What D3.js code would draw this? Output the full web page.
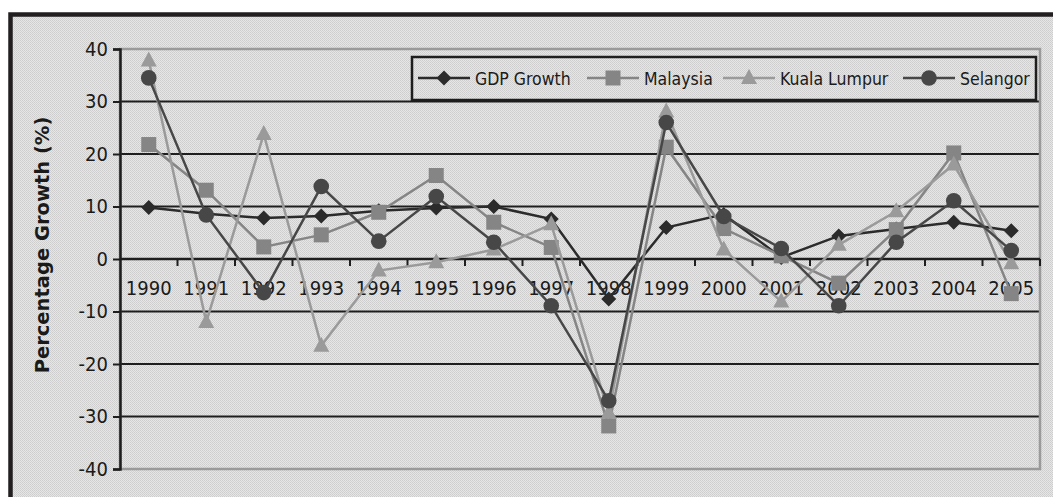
<!DOCTYPE html>
<html lang="en">
<head>
<meta charset="UTF-8">
<title>Percentage Growth</title>
<script src="https://d3js.org/d3.v7.min.js"></script>
<style>
  body { margin: 0; background: #fff; }
  text { font-family: "DejaVu Sans Condensed", "DejaVu Sans", sans-serif; fill: #1a1a1a; }
</style>
</head>
<body>
<div id="chart"></div>
<script>
// data
const years = ["1990","1991","1992","1993","1994","1995","1996","1997","1998","1999","2000","2001","2002","2003","2004","2005"];
const gdpGrowth   = [9.8, 8.6, 7.8, 8.2, 9.2, 9.7, 10.0, 7.6, -7.6, 6.0, 8.5, 0.3, 4.4, 5.7, 7.0, 5.4];
const malaysia    = [21.8, 13.1, 2.3, 4.6, 8.9, 15.9, 7.0, 2.2, -31.8, 21.3, 5.8, 0.6, -4.6, 5.6, 20.2, -6.6];
const kualaLumpur = [37.8, -12.0, 23.8, -16.5, -2.2, -0.6, 1.8, 6.6, -29.3, 28.1, 1.8, -8.1, 2.7, 9.1, 18.0, -0.8];
const selangor    = [34.5, 8.4, -6.4, 13.8, 3.4, 11.9, 3.2, -8.9, -27.0, 26.0, 8.1, 2.0, -8.9, 3.2, 11.1, 1.6];
const yTicks = [-40, -30, -20, -10, 0, 10, 20, 30, 40];

const series = [
  { name: "GDP Growth",   values: gdpGrowth,   color: "#2b2b2b", marker: "diamond" },
  { name: "Malaysia",     values: malaysia,    color: "#858585", marker: "square" },
  { name: "Kuala Lumpur", values: kualaLumpur, color: "#9a9a9a", marker: "triangle" },
  { name: "Selangor",     values: selangor,    color: "#474747", marker: "circle" }
];

const W = 1053, H = 497;
const plot = { left: 120, right: 1040, top: 49, bottom: 469 };

const svg = d3.select("#chart").append("svg")
  .attr("width", W).attr("height", H);

// fine dither texture for the background
const defs = svg.append("defs");
const pat = defs.append("pattern")
  .attr("id", "tex").attr("width", 2).attr("height", 2)
  .attr("patternUnits", "userSpaceOnUse");
pat.append("rect").attr("width", 2).attr("height", 2).attr("fill", "#e6e6e6");
pat.append("rect").attr("x", 0).attr("y", 0).attr("width", 1).attr("height", 1).attr("fill", "#cdcdcd");
pat.append("rect").attr("x", 1).attr("y", 1).attr("width", 1).attr("height", 1).attr("fill", "#d2d2d2");

// outer frame
svg.append("rect")
  .attr("x", 10.5).attr("y", 14.5).attr("width", W + 20).attr("height", H + 20)
  .attr("fill", "url(#tex)").attr("stroke", "#231f20").attr("stroke-width", 4.5);

const x = d3.scaleBand().domain(years).range([plot.left, plot.right]).padding(0);
const y = d3.scaleLinear().domain([-40, 40]).range([plot.bottom, plot.top]);
const cx = d => x(d) + x.bandwidth() / 2;

// gridlines
svg.append("g").selectAll("line")
  .data(yTicks.filter(v => v > -40 && v < 40))
  .enter().append("line")
  .attr("x1", plot.left).attr("x2", plot.right)
  .attr("y1", d => y(d)).attr("y2", d => y(d))
  .attr("stroke", "#1e1e1e").attr("stroke-width", 2);

// plot area border (gray)
svg.append("rect")
  .attr("x", plot.left).attr("y", plot.top)
  .attr("width", plot.right - plot.left).attr("height", plot.bottom - plot.top)
  .attr("fill", "none").attr("stroke", "#9a9a9a").attr("stroke-width", 2.5);

// y axis
const yAxis = svg.append("g")
  .attr("transform", `translate(${plot.left},0)`)
  .call(d3.axisLeft(y).tickValues(yTicks).tickSize(7).tickPadding(5));
yAxis.select(".domain").attr("stroke", "#1e1e1e").attr("stroke-width", 2.5);
yAxis.selectAll(".tick line").attr("stroke", "#1e1e1e").attr("stroke-width", 2);
yAxis.selectAll(".tick text")
  .attr("font-family", "DejaVu Sans Condensed").attr("font-size", 20).attr("fill", "#1a1a1a")
  .text(d => d < 0 ? "-" + Math.abs(d) : d);

// x axis along zero
const xAxis = svg.append("g")
  .attr("transform", `translate(0,${y(0)})`)
  .call(d3.axisBottom(x).tickSize(0).tickPadding(22));
xAxis.select(".domain").remove();
xAxis.selectAll(".tick text")
  .attr("font-family", "DejaVu Sans Condensed").attr("font-size", 20).attr("fill", "#1a1a1a");
svg.append("g").selectAll("line")
  .data(years)
  .enter().append("line")
  .attr("x1", d => x(d) + x.bandwidth()).attr("x2", d => x(d) + x.bandwidth())
  .attr("y1", y(0)).attr("y2", y(0) + 7)
  .attr("stroke", "#1e1e1e").attr("stroke-width", 2);
svg.append("line")
  .attr("x1", plot.left).attr("x2", plot.right)
  .attr("y1", y(0)).attr("y2", y(0))
  .attr("stroke", "#1e1e1e").attr("stroke-width", 2.5);

// y title
svg.append("text")
  .attr("transform", `translate(49,245) rotate(-90)`)
  .attr("text-anchor", "middle")
  .attr("font-weight", "bold").attr("font-size", 19.5)
  .style("font-family", "'DejaVu Sans', sans-serif")
  .text("Percentage Growth (%)");

function drawMarker(g, type, color) {
  if (type === "diamond") {
    g.append("path").attr("d", "M0,-7.5L7.5,0L0,7.5L-7.5,0Z").attr("fill", color);
  } else if (type === "square") {
    g.append("rect").attr("x", -7.5).attr("y", -7.5).attr("width", 15).attr("height", 15).attr("fill", color);
  } else if (type === "triangle") {
    g.append("path").attr("d", "M0,-9L8,6L-8,6Z").attr("fill", color);
  } else {
    g.append("circle").attr("r", 7.8).attr("fill", color);
  }
}

const line = d3.line().x((d, i) => cx(years[i])).y(d => y(d));

series.forEach(s => {
  const g = svg.append("g");
  g.append("path")
    .datum(s.values)
    .attr("fill", "none")
    .attr("stroke", s.color)
    .attr("stroke-width", 2.5)
    .attr("d", line);
  s.values.forEach((v, i) => {
    const m = g.append("g").attr("transform", `translate(${cx(years[i])},${y(v)})`);
    drawMarker(m, s.marker, s.color);
  });
});

// legend
const legend = svg.append("g");
legend.append("rect")
  .attr("x", 412).attr("y", 57).attr("width", 624).attr("height", 43)
  .attr("fill", "url(#tex)").attr("stroke", "#1e1e1e").attr("stroke-width", 2.5);
const legendX = [418, 587, 723, 903];
series.forEach((s, i) => {
  const it = legend.append("g").attr("transform", `translate(${legendX[i]},78)`);
  it.append("line").attr("x1", 0).attr("x2", 52).attr("stroke", s.color).attr("stroke-width", 2.5);
  drawMarker(it.append("g").attr("transform", "translate(26,0)"), s.marker, s.color);
  it.append("text")
    .attr("x", 57).attr("y", 6.5)
    .attr("font-size", 17.5)
    .text(s.name);
});
</script>
</body>
</html>
